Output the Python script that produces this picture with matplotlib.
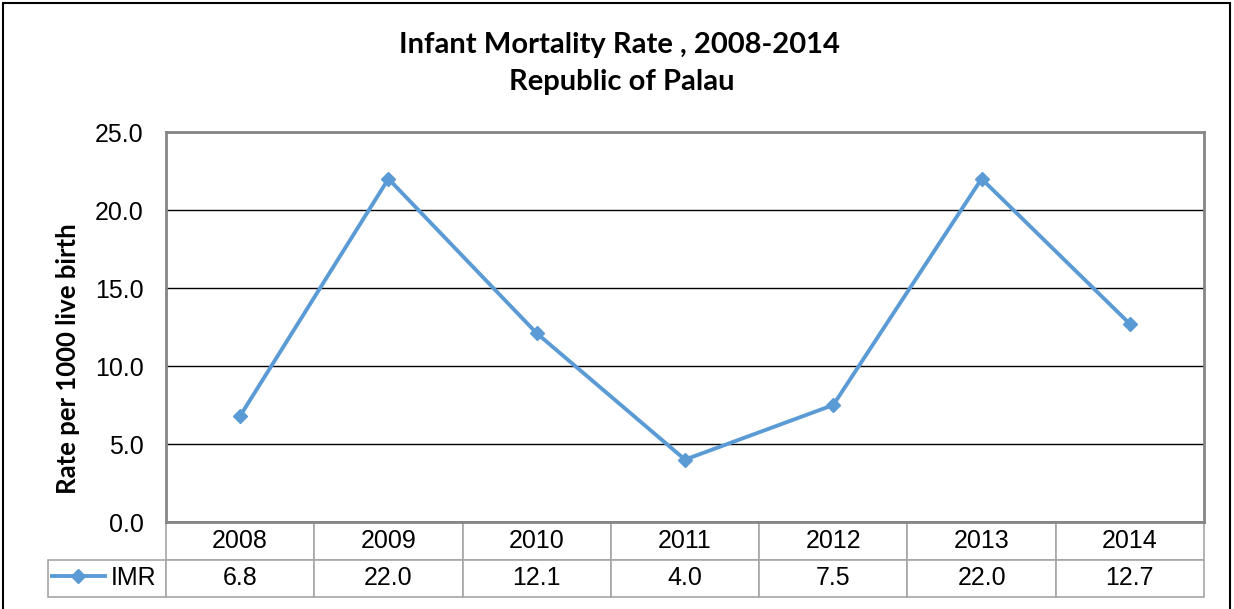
import matplotlib
matplotlib.use("Agg")
import matplotlib.pyplot as plt
from matplotlib.patches import Rectangle

years = ["2008", "2009", "2010", "2011", "2012", "2013", "2014"]
imr = [6.8, 22.0, 12.1, 4.0, 7.5, 22.0, 12.7]
series_name = "IMR"
y_ticks = [0, 5, 10, 15, 20, 25]

W, H = 1234, 609
LINE_COLOR = "#5B9BD5"
NUM_FONT = "Liberation Sans"
HEAD_FONT = "Lato"
NUM_SIZE = 18

fig = plt.figure(figsize=(W / 100, H / 100), dpi=100)

# plot area in pixel terms
px_l, px_r, px_t, px_b = 166, 1204, 132, 522
ax = fig.add_axes([px_l / W, 1 - px_b / H, (px_r - px_l) / W, (px_b - px_t) / H])

x = list(range(len(years)))
ax.plot(x, imr, color=LINE_COLOR, lw=2.8, marker="D", markersize=7,
        label=series_name, clip_on=False, zorder=3)

ax.set_xlim(-0.5, len(years) - 0.5)
ax.set_ylim(0, 25)
ax.set_yticks(y_ticks)
ax.set_yticklabels([f"{v:.1f}" for v in y_ticks], fontname=NUM_FONT, fontsize=NUM_SIZE)
ax.tick_params(axis="y", length=0, pad=16)
ax.set_xticks([])
ax.grid(axis="y", color="black", lw=1)
ax.set_axisbelow(True)
for s in ax.spines.values():
    s.set_color("#868686")
    s.set_linewidth(2)

# data table under the plot (first column holds the legend key)
aw = px_r - px_l
ah = px_b - px_t
lab_w = (px_l - 48) / aw
tbl = ax.table(cellText=[[""] + years, [""] + [f"{v:.1f}" for v in imr]],
               colWidths=[lab_w] + [1 / len(years)] * len(years),
               cellLoc="center",
               bbox=[-lab_w, -(597 - px_b) / ah, 1 + lab_w, (597 - px_b) / ah])
tbl.auto_set_font_size(False)
for (r, c), cell in tbl.get_celld().items():
    cell.set_edgecolor("#A6A6A6")
    cell.set_linewidth(1.2)
    cell.get_text().set_fontsize(NUM_SIZE)
    cell.get_text().set_fontname(NUM_FONT)
    if r == 0 and c == 0:
        cell.visible_edges = ""

# legend key inside the row-label cell
ax.legend(loc="center left", bbox_to_anchor=((52 - px_l) / aw, -(578 - px_b) / ah),
          frameon=False, borderpad=0, borderaxespad=0, handlelength=2.1,
          handletextpad=0.25, prop={"family": NUM_FONT, "size": NUM_SIZE})

# titles
fig.text(619 / W, 1 - 45 / H, "Infant Mortality Rate , 2008-2014", ha="center", va="center",
         fontname=HEAD_FONT, fontweight="bold", fontsize=21)
fig.text(622 / W, 1 - 82 / H, "Republic of Palau", ha="center", va="center",
         fontname=HEAD_FONT, fontweight="bold", fontsize=21)
fig.text(68 / W, 1 - 359 / H, "Rate per 1000 live birth", rotation=90, ha="center", va="center",
         fontname=HEAD_FONT, fontweight="bold", fontsize=18.5)

# outer chart border
fig.patches.append(Rectangle((3 / W, -0.02), 1227 / W, 1 - 3 / H + 0.02,
                             transform=fig.transFigure, fill=False, ec="black", lw=1.5))

fig.savefig("out.png", dpi=100)
